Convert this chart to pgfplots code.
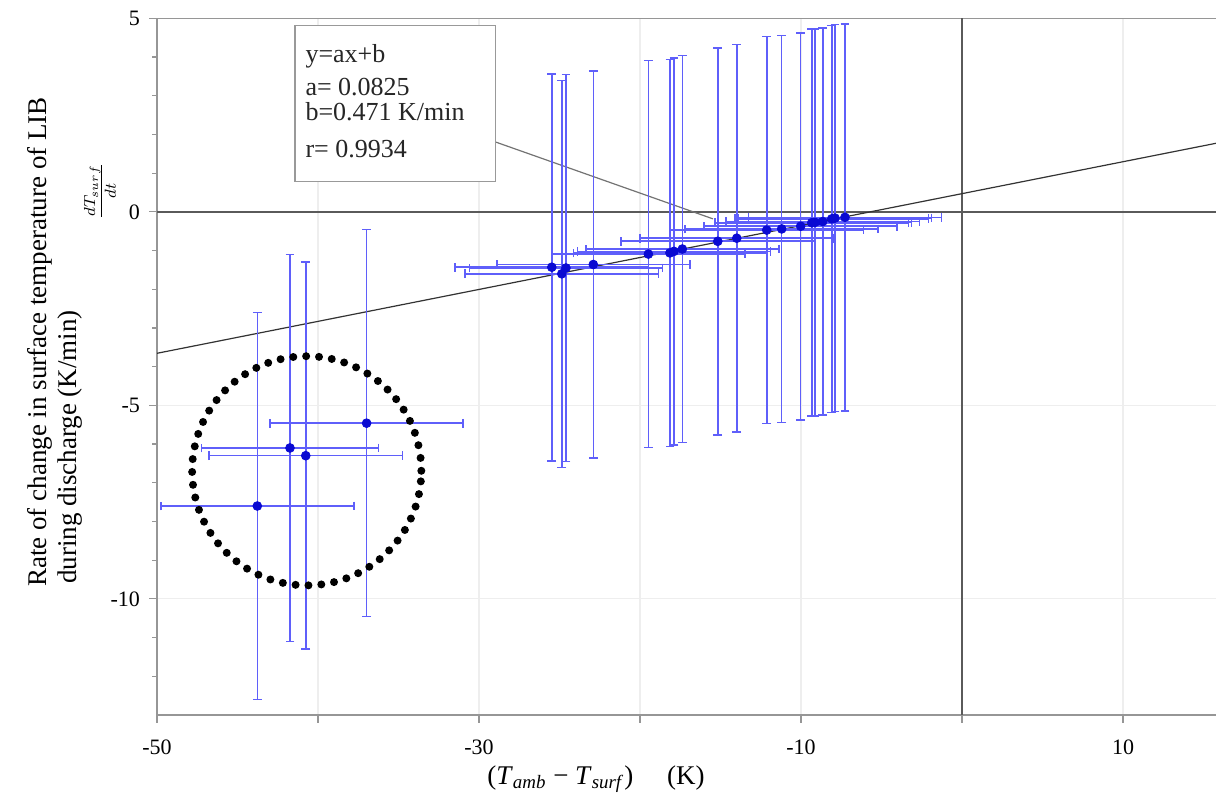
\documentclass[border=0pt]{standalone}
\usepackage{pgfplots}
\pgfplotsset{compat=1.18}
\usepackage{pgfplotstable}
\usepackage{fontspec}
\setmainfont{Liberation Serif}

\definecolor{barblue}{RGB}{95,95,250}
\definecolor{markblue}{RGB}{10,10,210}
\definecolor{framegray}{RGB}{150,150,150}
\definecolor{zerogray}{RGB}{90,90,90}

% measured points: x, y, x error, y error
\pgfplotstableread{
x       y      ex   ey
-25.48  -1.43  6.0  5.0
-24.86  -1.60  6.0  5.0
-24.60  -1.45  6.0  5.0
-22.90  -1.36  6.0  5.0
-19.48  -1.09  6.0  5.0
-18.14  -1.06  6.0  5.0
-17.89  -1.02  6.0  5.0
-17.37  -0.96  6.0  5.0
-15.17  -0.76  6.0  5.0
-13.99  -0.68  6.0  5.0
-12.13  -0.47  6.0  5.0
-11.20  -0.44  6.0  5.0
-10.02  -0.37  6.0  5.0
-9.33   -0.28  6.0  5.0
-9.13   -0.27  6.0  5.0
-8.65   -0.25  6.0  5.0
-8.09   -0.18  6.0  5.0
-7.89   -0.16  6.0  5.0
-7.27   -0.14  6.0  5.0
}\maindata

% points excluded from the fit
\pgfplotstableread{
x       y      ex   ey
-36.98  -5.46  6.0  5.0
-41.74  -6.10  5.5  5.0
-40.76  -6.30  6.0  5.0
-43.77  -7.60  6.0  5.0
}\outliers

\pgfplotsset{
  errdata/.style={only marks, mark=*, mark size=2.2pt, color=markblue,
    error bars/.cd, x dir=both, x explicit, y dir=both, y explicit,
    error bar style={barblue, line width=0.8pt},
    error mark options={rotate=90, barblue, mark size=2.2pt, line width=0.8pt}},
}

\begin{document}
\begin{tikzpicture}
\useasboundingbox (-78.5pt,-43pt) rectangle (529.5pt,357.5pt);
\begin{axis}[
  scale only axis,
  width=539.35pt, height=348.3pt,
  xmin=-50, xmax=17, ymin=-13, ymax=5,
  xtick={-50,-40,...,10},
  xticklabels={-50,,-30,,-10,,10},
  ytick={-10,-5,0,5},
  yticklabels={-10,-5,0,5},
  minor ytick={-12,-11,...,4},
  grid=major,
  major grid style={gray!13, line width=0.6pt},
  tick align=outside, tick pos=left,
  axis line style={framegray, line width=0.7pt},
  tick style={framegray, line width=0.6pt},
  major tick length=4pt, minor tick length=2.5pt,
  ticklabel style={font=\fontsize{11}{13}\selectfont},
  xticklabel style={yshift=-5pt},
  yticklabel style={xshift=-1pt},
  /pgf/number format/assume math mode=true,
]

% zero lines
\draw[zerogray, line width=0.9pt] (axis cs:0,-13) -- (axis cs:0,5);
\draw[zerogray, line width=0.9pt] (axis cs:-50,0) -- (axis cs:17,0);

% fitted line y = 0.0825 x + 0.471
\addplot[black!80, line width=0.6pt] coordinates {(-50,-3.654) (17,1.8735)};

% annotation box and leader
\draw[gray!90!black, line width=0.6pt] (axis cs:-29.0,1.81) -- (axis cs:-15.47,-0.18);
\draw[gray!80, fill=white, line width=0.6pt] (axis cs:-41.43,0.775) rectangle (axis cs:-29.0,4.81);
\begin{scope}[every node/.style={anchor=west, inner sep=0pt, font=\fontsize{13}{15}\selectfont, text=black!85}]
\node at (axis cs:-40.8,4.03) {y=ax+b};
\node at (axis cs:-40.8,3.23) {a= 0.0825};
\node at (axis cs:-40.8,2.58) {b=0.471 K/min};
\node at (axis cs:-40.8,1.63) {r= 0.9934};
\end{scope}

% data with error bars
\addplot[errdata] table[x=x, y=y, x error=ex, y error=ey] {\maindata};
\addplot[errdata] table[x=x, y=y, x error=ex, y error=ey] {\outliers};

% dotted ring round the excluded points
\draw[black, line width=4pt, line cap=round, dash pattern=on 0pt off 6.45pt]
  (axis cs:-40.7,-6.69) circle[radius=57.3pt];
\end{axis}

% axis titles
\node[rotate=90, font=\fontsize{13.5}{16}\selectfont] at (-58.5pt,186.5pt)
  {Rate of change in surface temperature of LIB};
\node[rotate=90, font=\fontsize{13.5}{16}\selectfont] at (-43.5pt,134pt)
  {during discharge (K/min)};
\node[rotate=90, font=\fontsize{11.5}{13}\selectfont] at (-28.5pt,262pt)
  {${\textstyle\frac{dT_{surf}}{dt}}$};
\node[font=\fontsize{13.5}{16}\selectfont] at (219.5pt,-32pt)
  {(\textit{T}\textsubscript{\textit{amb}} − \textit{T}\textsubscript{\textit{surf}})\quad\ (K)};
\end{tikzpicture}
\end{document}
